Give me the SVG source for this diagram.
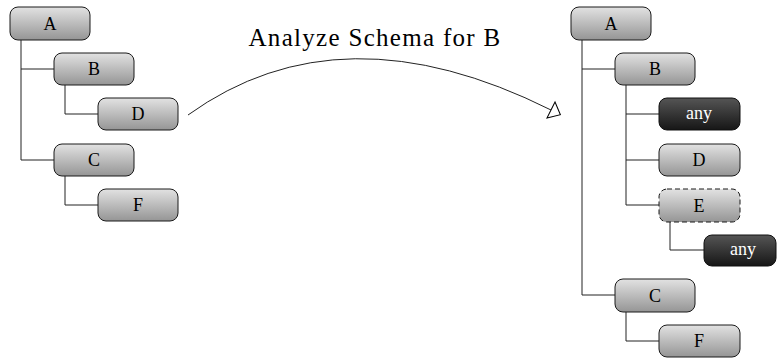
<svg xmlns="http://www.w3.org/2000/svg" width="777" height="360" viewBox="0 0 777 360">
<defs>
<linearGradient id="g" x1="0" y1="0" x2="0" y2="1">
<stop offset="0" stop-color="#e2e2e2"/>
<stop offset="1" stop-color="#959595"/>
</linearGradient>
<linearGradient id="gd" x1="0" y1="0" x2="0" y2="1">
<stop offset="0" stop-color="#555555"/>
<stop offset="1" stop-color="#161616"/>
</linearGradient>
<marker id="arr" markerUnits="userSpaceOnUse" viewBox="-1 -11 14 22" refX="0" refY="0" markerWidth="14" markerHeight="22" orient="auto">
<path d="M0,-9 L10.5,0 L0,9 Z" fill="#fff" stroke="#000" stroke-width="1"/>
</marker>
</defs>
<style>
.n rect{fill:url(#g);stroke:#1a1a1a;stroke-width:1}
.k rect{fill:url(#gd);stroke:#111;stroke-width:1}
.n text{fill:#000}
.k text{fill:#fff}
text{font-family:"Liberation Serif","DejaVu Serif","Noto Serif","Times New Roman",serif;font-size:18px;text-anchor:middle}
.title{font-size:25px;letter-spacing:1.3px}
.c path{fill:none;stroke:#222;stroke-width:1}
.dash rect{stroke-dasharray:5,3}
</style>
<g class="c" id="connectors">
<path d="M21,40 V160 H54 M21,69 H54 M65,85 V114 H98 M65,176 V205 H98"/>
<path d="M582,40 V295 H615 M582,69 H615 M626,85 V205 H659 M626,114 H659 M626,160 H659 M670,222 V250 H704 M626,312 V341 H659"/>
<path d="M188,115 Q341,5 551,110" stroke="#000" marker-end="url(#arr)"/>
</g>
<text class="title" x="375" y="46">Analyze Schema for B</text>
<g id="L_A" class="n"><rect x="10" y="7" width="80" height="33" rx="8"/><text x="50" y="30">A</text></g>
<g id="L_B" class="n"><rect x="54" y="53" width="80" height="32" rx="8"/><text x="94" y="75">B</text></g>
<g id="L_D" class="n"><rect x="98" y="98" width="80" height="32" rx="8"/><text x="138" y="120">D</text></g>
<g id="L_C" class="n"><rect x="54" y="144" width="80" height="32" rx="8"/><text x="94" y="166">C</text></g>
<g id="L_F" class="n"><rect x="98" y="189" width="80" height="32" rx="8"/><text x="138" y="211">F</text></g>
<g id="R_A" class="n"><rect x="571" y="7" width="80" height="33" rx="8"/><text x="611" y="30">A</text></g>
<g id="R_B" class="n"><rect x="615" y="53" width="80" height="32" rx="8"/><text x="655" y="75">B</text></g>
<g id="R_any1" class="k"><rect x="659" y="98" width="81" height="32" rx="8"/><text x="699" y="119">any</text></g>
<g id="R_D" class="n"><rect x="659" y="144" width="81" height="32" rx="8"/><text x="699" y="166">D</text></g>
<g id="R_E" class="n dash"><rect x="659" y="189" width="81" height="33" rx="8"/><text x="699" y="212">E</text></g>
<g id="R_any2" class="k"><rect x="704" y="235" width="72" height="31" rx="8"/><text x="743" y="255">any</text></g>
<g id="R_C" class="n"><rect x="615" y="279" width="80" height="33" rx="8"/><text x="655" y="302">C</text></g>
<g id="R_F" class="n"><rect x="659" y="325" width="81" height="32" rx="8"/><text x="699" y="347">F</text></g>
</svg>
